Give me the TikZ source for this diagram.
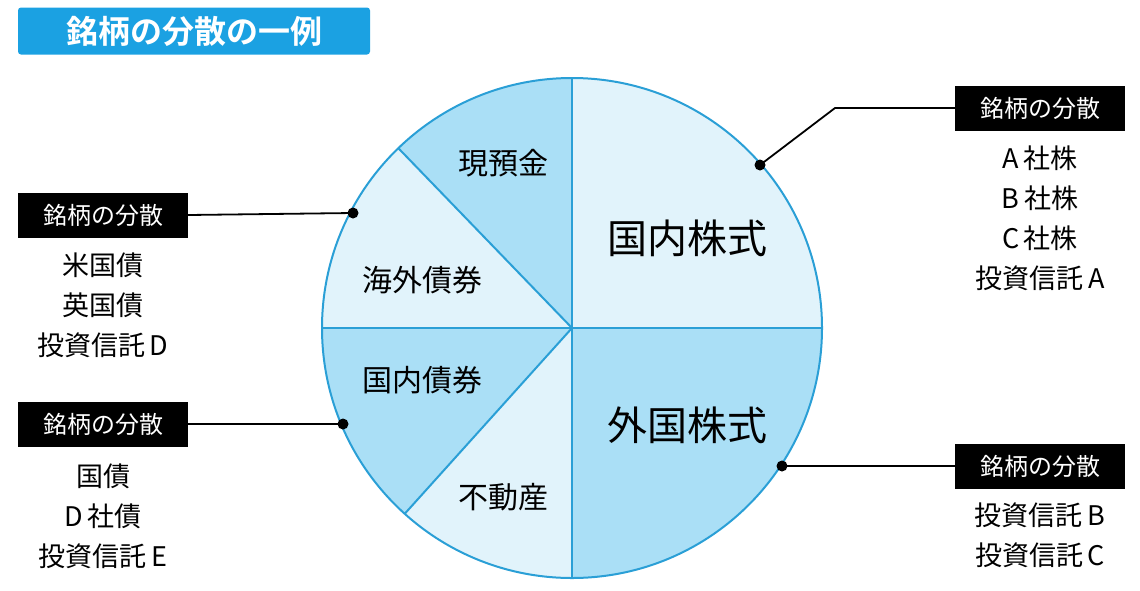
\documentclass[tikz,border=0pt]{standalone}
\usepackage{fontspec}
\setmainfont{Noto Sans CJK JP}
\newfontfamily\boldcjk{Noto Sans CJK JP}[BoldFont={* Bold}]
\definecolor{lightb}{HTML}{E1F3FB}
\definecolor{darkb}{HTML}{AADFF6}
\definecolor{lineb}{HTML}{2A9FD6}
\definecolor{titleb}{HTML}{1BA1E2}
\begin{document}
\begin{tikzpicture}[x=1pt,y=-1pt,
  lab/.style={fill=black,text=white,minimum width=170pt,minimum height=45pt,inner sep=0pt,font=\fontsize{24}{24}\selectfont},
  item/.style={font=\fontsize{27}{40}\selectfont,align=center,inner sep=0pt},
  big/.style={font=\fontsize{40}{40}\selectfont,inner sep=0pt},
  mid/.style={font=\fontsize{30}{30}\selectfont,inner sep=0pt},
  lead/.style={line width=1.8pt},
  dotc/.style={circle,fill=black,inner sep=0pt,minimum size=11pt}]
\useasboundingbox (0,0) rectangle (1140,590);
\coordinate (c) at (572,328);
\def\R{250}
\fill[lightb] (c) -- ++(0:\R) arc[start angle=0,end angle=-90,radius=\R] -- cycle;
\fill[darkb] (c) -- ++(0:\R) arc[start angle=0,end angle=90,radius=\R] -- cycle;
\fill[darkb] (c) -- ++(-90:\R) arc[start angle=-90,end angle=-134,radius=\R] -- cycle;
\fill[lightb] (c) -- ++(-134:\R) arc[start angle=-134,end angle=-180,radius=\R] -- cycle;
\fill[darkb] (c) -- ++(180:\R) arc[start angle=180,end angle=132,radius=\R] -- cycle;
\fill[lightb] (c) -- ++(132:\R) arc[start angle=132,end angle=90,radius=\R] -- cycle;
\draw[lineb,line width=2pt] (c) circle[radius=\R];
\foreach \a in {0,90,180,270,-134,132} \draw[lineb,line width=2pt] (c) -- ++(\a:\R);
\node[big] (s1) at (687,238) {国内株式};
\node[big] (s2) at (687,425) {外国株式};
\node[mid] (s3) at (503,163) {現預金};
\node[mid] (s4) at (422,280) {海外債券};
\node[mid] (s5) at (422,380) {国内債券};
\node[mid] (s6) at (503,497) {不動産};
\node[fill=titleb,rounded corners=3pt,minimum width=352pt,minimum height=47pt,inner sep=0pt,text=white,font=\boldcjk\bfseries\fontsize{32}{32}\selectfont] (t) at (194,31) {銘柄の分散の一例};
\node[lab] (b1) at (1040,108) {銘柄の分散};
\node[lab] (b2) at (1040,466) {銘柄の分散};
\node[lab] (b3) at (103,215) {銘柄の分散};
\node[lab] (b4) at (103,424) {銘柄の分散};
\node[dotc] (d1) at (760,165) {};
\node[dotc] (d2) at (782,466) {};
\node[dotc] (d3) at (353,213) {};
\node[dotc] (d4) at (343,424) {};
\coordinate (k1) at (835,108);
\draw[lead] (b1.west) -- (k1) -- (d1.center);
\draw[lead] (b2.west) -- (d2.center);
\draw[lead] (b3.east) -- (d3.center);
\draw[lead] (b4.east) -- (d4.center);
\node[item,anchor=north] (l1) at (1040,146) {A\,社株\\B\,社株\\C\,社株\\投資信託\,A};
\node[item,anchor=north] (l3) at (103,253) {米国債\\英国債\\投資信託\,D};
\node[item,anchor=north] (l4) at (103,464) {国債\\D\,社債\\投資信託\,E};
\node[item,anchor=north] (l2) at (1040,503) {投資信託\,B\\投資信託\,C};
\end{tikzpicture}
\end{document}
